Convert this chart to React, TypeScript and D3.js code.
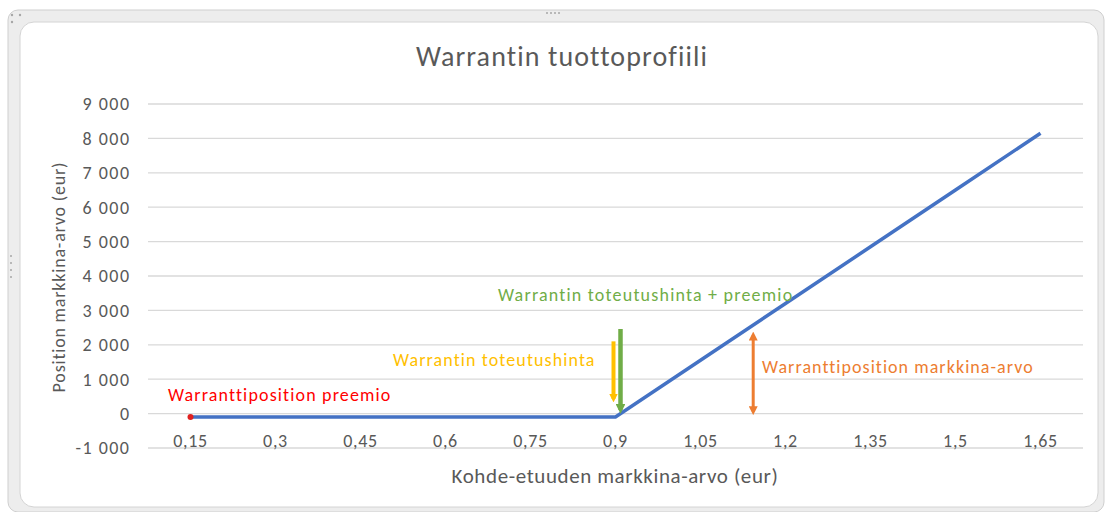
import React from 'react';
import * as d3 from 'd3';

// Kohde-etuuden hinta (kategoria-akseli)
const categories = [0.15, 0.3, 0.45, 0.6, 0.75, 0.9, 1.05, 1.2, 1.35, 1.5, 1.65];
// Position markkina-arvo
const positionValues = [-100, -100, -100, -100, -100, -100, 1550, 3200, 4850, 6500, 8150];
const yTicks = [-1000, 0, 1000, 2000, 3000, 4000, 5000, 6000, 7000, 8000, 9000];

const title = 'Warrantin tuottoprofiili';
const xTitle = 'Kohde-etuuden  markkina-arvo (eur)';
const yTitle = 'Position markkina-arvo (eur)';

const labelPremium = 'Warranttiposition preemio';
const labelStrike = 'Warrantin toteutushinta';
const labelStrikePremium = 'Warrantin toteutushinta + preemio';
const labelMarket = 'Warranttiposition markkina-arvo';

// nuolien arvot (alku, loppu)
const strikeArrow = [2100, 430];
const strikePremiumArrow = [2460, 110];
const marketArrow = [2280, 60];

const fmtCat = (v: number) => String(v).replace('.', ',');
const fmtY = (v: number) => {
  const s = Math.abs(v).toString().replace(/\B(?=(\d{3})+(?!\d))/g, ' ');
  return (v < 0 ? '-' : '') + s;
};

const FONT = "Carlito, Calibri, Lato, 'Open Sans', sans-serif";
const GRAY = '#595959';

function Head({ id, color, size, start }: { id: string; color: string; size: number; start?: boolean }) {
  return (
    <marker
      id={id}
      viewBox="0 0 10 10"
      refX="6"
      refY="5"
      markerWidth={size}
      markerHeight={size}
      orient={start ? 'auto-start-reverse' : 'auto'}
    >
      <path d="M0,0 L10,5 L0,10 Z" fill={color} />
    </marker>
  );
}

export default function App() {
  const W = 1106;
  const H = 512;
  const plot = { left: 148, right: 1083, top: 104, bottom: 448 };

  const x = d3.scaleBand<number>().domain(categories).range([plot.left, plot.right]);
  const cx = (c: number) => (x(c) ?? 0) + x.bandwidth() / 2;
  const y = d3.scaleLinear().domain([-1000, 9000]).range([plot.bottom, plot.top]);

  const line = d3
    .line<number>()
    .x((_, i) => cx(categories[i]))
    .y((d) => y(d));

  const strikeX = cx(0.9);
  const marketX = cx(1.05) + x.bandwidth() * 0.62;

  return (
    <div style={{ position: 'absolute', left: 0, top: 0 }}>
      <svg width={W} height={H} style={{ display: 'block', fontFamily: FONT }}>
        <defs>
          <Head id="hYel" color="#FFC000" size={2.2} />
          <Head id="hGrn" color="#70AD47" size={2.2} />
          <Head id="hOrE" color="#ED7D31" size={3} />
          <Head id="hOrS" color="#ED7D31" size={3} start />
        </defs>

        {/* kehys */}
        <rect x={8} y={10} width={1096} height={502} rx={10} fill="#EDEDED" stroke="#CFCFCF" />
        <rect x={20} y={22} width={1078} height={485} rx={14} fill="#fff" stroke="#D4D4D4" />
        {[0, 1, 2, 3].map((i) => (
          <circle key={'t' + i} cx={547 + i * 4} cy={13} r={1} fill="#A6A6A6" />
        ))}
        {[0, 1, 2, 3].map((i) => (
          <circle key={'l' + i} cx={11} cy={256 + i * 7} r={1} fill="#A6A6A6" />
        ))}
        <circle cx={12} cy={15} r={1.2} fill="#A6A6A6" />
        <circle cx={20} cy={15} r={1.2} fill="#A6A6A6" />
        <circle cx={12} cy={22} r={1.2} fill="#A6A6A6" />

        <text x={562} y={66} textAnchor="middle" fontSize={28} letterSpacing={1.1} fill={GRAY}>
          {title}
        </text>

        {/* ruudukko ja y-akseli */}
        {yTicks.map((t) => (
          <g key={t}>
            <line x1={plot.left} x2={plot.right} y1={y(t)} y2={y(t)} stroke="#D9D9D9" strokeWidth={1.3} />
            <text x={130.5} y={y(t)} dy="0.35em" textAnchor="end" fontSize={18} letterSpacing={1.5} fill={GRAY}>
              {fmtY(t)}
            </text>
          </g>
        ))}

        {/* x-akselin tekstit */}
        {categories.map((c) => (
          <text key={c} x={cx(c)} y={y(0) + 27} dy="0.35em" textAnchor="middle" fontSize={18} letterSpacing={0.7} fill={GRAY}>
            {fmtCat(c)}
          </text>
        ))}

        <text x={615} y={483} textAnchor="middle" fontSize={21} letterSpacing={0.6} fill={GRAY}>
          {xTitle}
        </text>
        <text transform="translate(65,277) rotate(-90)" textAnchor="middle" fontSize={18} letterSpacing={0.8} fill={GRAY}>
          {yTitle}
        </text>

        {/* sarja */}
        <path d={line(positionValues) ?? ''} fill="none" stroke="#4472C4" strokeWidth={3.5} />
        <circle cx={cx(categories[0])} cy={y(positionValues[0])} r={3} fill="#E0201F" />

        {/* nuolet */}
        <line x1={strikeX - 2} x2={strikeX - 2} y1={y(strikeArrow[0])} y2={y(strikeArrow[1])} stroke="#FFC000" strokeWidth={4} markerEnd="url(#hYel)" />
        <line x1={strikeX + 5} x2={strikeX + 5} y1={y(strikePremiumArrow[0])} y2={y(strikePremiumArrow[1])} stroke="#70AD47" strokeWidth={4.5} markerEnd="url(#hGrn)" />
        <line x1={marketX} x2={marketX} y1={y(marketArrow[0])} y2={y(marketArrow[1])} stroke="#ED7D31" strokeWidth={3} markerEnd="url(#hOrE)" markerStart="url(#hOrS)" />

        {/* tekstit */}
        <text x={168} y={401} fontSize={18} letterSpacing={1.15} fill="#FF0000">{labelPremium}</text>
        <text x={393} y={366} fontSize={18} letterSpacing={1.1} fill="#FFC000">{labelStrike}</text>
        <text x={498} y={301} fontSize={18} letterSpacing={1.2} fill="#70AD47">{labelStrikePremium}</text>
        <text x={762} y={373} fontSize={18} letterSpacing={1.05} fill="#ED7D31">{labelMarket}</text>
      </svg>
    </div>
  );
}
